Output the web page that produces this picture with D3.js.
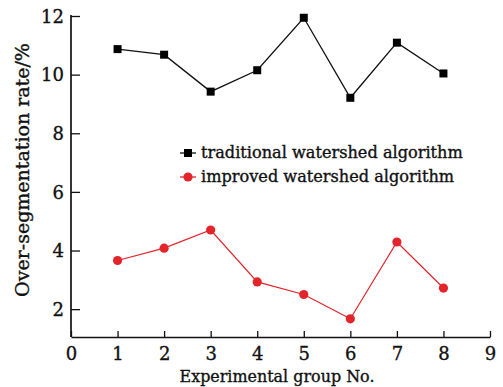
<!DOCTYPE html>
<html>
<head>
<meta charset="utf-8">
<script src="https://cdn.jsdelivr.net/npm/d3@7"></script>
<style>
  body { margin: 0; background: #fff; }
  svg { display: block; }
  text { font-family: "DejaVu Serif", "Liberation Serif", serif; fill: #111; stroke: #111; stroke-width: 0.35px; }
</style>
</head>
<body>
<svg id="chart" width="503" height="387"></svg>
<script>
// experimental groups and over-segmentation rates (%)
const groups = [1, 2, 3, 4, 5, 6, 7, 8];
const traditional = [10.87, 10.68, 9.42, 10.15, 11.94, 9.21, 11.09, 10.04];
const improved = [3.66, 4.08, 4.70, 2.93, 2.50, 1.67, 4.29, 2.72];
const xTicks = [0, 1, 2, 3, 4, 5, 6, 7, 8, 9];
const yTicks = [2, 4, 6, 8, 10, 12];
const seriesNames = ["traditional watershed algorithm", "improved watershed algorithm"];

const svg = d3.select("#chart");
const x = d3.scaleLinear().domain([0, 9]).range([71, 490]);
const y = d3.scaleLinear().domain([1.05, 12]).range([337, 16]);

// shrink/grow a text so that it spans the wanted width
function fit(sel, w) {
  const n = sel.node(), l = n.getComputedTextLength();
  const fs = parseFloat(sel.attr("font-size"));
  sel.attr("font-size", (fs * w / l).toFixed(2));
}

const xAxis = svg.append("g")
  .attr("transform", `translate(0,${y.range()[0]})`)
  .call(d3.axisBottom(x).tickValues(xTicks).tickFormat(d3.format("d")).tickSizeInner(-6).tickSizeOuter(0));
xAxis.select(".domain").attr("stroke", "#111").attr("stroke-width", 1.7);
xAxis.selectAll(".tick line").attr("stroke", "#111").attr("stroke-width", 1.3);
xAxis.selectAll(".tick text")
  .attr("y", 10).attr("dy", "0.71em")
  .attr("font-size", 18).attr("font-family", null).attr("fill", "#111");

const yAxis = svg.append("g")
  .attr("transform", `translate(${x.range()[0]},0)`)
  .call(d3.axisLeft(y).tickValues(yTicks).tickFormat(d3.format("d")).tickSizeInner(-9).tickSizeOuter(0));
yAxis.select(".domain").attr("stroke", "#111").attr("stroke-width", 1.7)
  .attr("d", `M0,${y.range()[0]}V${y(12) - 1}`);
yAxis.selectAll(".tick line").attr("stroke", "#111").attr("stroke-width", 1.3);
yAxis.selectAll(".tick text")
  .attr("x", -7).attr("dy", "0.34em")
  .attr("font-size", 18).attr("font-family", null).attr("fill", "#111");

// axis titles
const xt = svg.append("text")
  .attr("x", 277).attr("y", 382)
  .attr("text-anchor", "middle").attr("font-size", 16)
  .text("Experimental group No.");
fit(xt, 195);

const yt = svg.append("text")
  .attr("transform", "translate(29,170) rotate(-90)")
  .attr("text-anchor", "middle").attr("font-size", 16)
  .text("Over-segmentation rate/%");
fit(yt, 254);

const line = d3.line().x((d, i) => x(groups[i])).y(d => y(d));

svg.append("path").datum(traditional)
  .attr("fill", "none").attr("stroke", "#111").attr("stroke-width", 1.3)
  .attr("d", line);
svg.selectAll(".sq").data(traditional).join("rect")
  .attr("class", "sq")
  .attr("x", (d, i) => x(groups[i]) - 4).attr("y", d => y(d) - 4)
  .attr("width", 8).attr("height", 8).attr("fill", "#000");

const red = "#e3242b";
svg.append("path").datum(improved)
  .attr("fill", "none").attr("stroke", red).attr("stroke-width", 1.2)
  .attr("d", line);
svg.selectAll(".dot").data(improved).join("circle")
  .attr("class", "dot")
  .attr("cx", (d, i) => x(groups[i])).attr("cy", d => y(d))
  .attr("r", 4.6).attr("fill", red);

// legend
const legend = svg.append("g");
const ly = [153, 177];
legend.selectAll("line").data(seriesNames).join("line")
  .attr("x1", 180).attr("x2", 196)
  .attr("y1", (d, i) => ly[i]).attr("y2", (d, i) => ly[i])
  .attr("stroke", (d, i) => i ? red : "#111").attr("stroke-width", 1.3);
legend.append("rect").attr("x", 184).attr("y", ly[0] - 4).attr("width", 8).attr("height", 8).attr("fill", "#000");
legend.append("circle").attr("cx", 188).attr("cy", ly[1]).attr("r", 4.6).attr("fill", red);
legend.selectAll("text").data(seriesNames).join("text")
  .attr("x", 201).attr("y", (d, i) => ly[i]).attr("dy", "0.32em")
  .attr("font-size", 15)
  .text(d => d)
  .each(function(d, i) { if (i === 0) fit(d3.select(this), 262); });
legend.select("text:nth-of-type(2)").attr("font-size", legend.select("text").attr("font-size"));
</script>
</body>
</html>
